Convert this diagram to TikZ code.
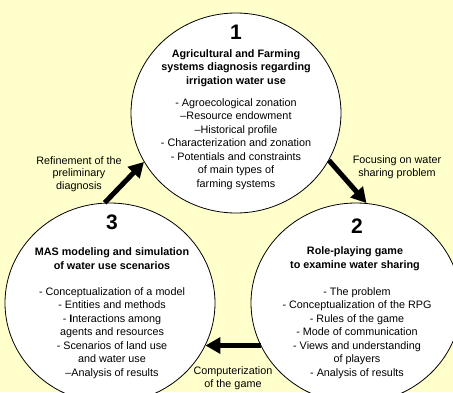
\documentclass[tikz,border=0pt]{standalone}
\usepackage{fontspec}
\setmainfont{Liberation Sans}
\usetikzlibrary{shapes.geometric,arrows.meta}
\definecolor{bgyellow}{RGB}{255,255,204}
\tikzset{
  phase/.style={ellipse, draw=black, line width=0.8pt, fill=white, inner sep=0pt,
    minimum width=210pt, minimum height=200pt},
  num/.style={font=\fontsize{21}{24}\selectfont\bfseries, inner sep=0pt},
  ttl/.style={font=\fontsize{10.8}{13.5}\selectfont\bfseries, align=center, inner sep=0pt},
  lst/.style={font=\fontsize{10.8}{13.5}\selectfont, align=center, inner sep=0pt},
  lab/.style={font=\fontsize{10.8}{12.5}\selectfont, align=center, inner sep=0pt},
  bigarrow/.style={line width=5pt, -{Triangle[length=15pt,width=16pt]}}
}
\begin{document}
\begin{tikzpicture}[x=1pt,y=-1pt]
\useasboundingbox (0,0) rectangle (453,392);
\clip (0,0) rectangle (453,392);
\fill[bgyellow] (0,0) rectangle (453,392);
% circles
\node[phase] (c1) at (236,113) {};
\node[phase] (c2) at (356,303) {};
\node[phase] (c3) at (110,303) {};
% circle 1 text
\node[num] (n1) at (236,32) {1};
\node[ttl] (t1) at (236,68) {Agricultural and Farming\\systems diagnosis regarding\\irrigation water use};
\node[lst] (l1) at (236,144) {- Agroecological zonation\\--Resource endowment\\--Historical profile\\- Characterization and zonation\\- Potentials and constraints\\of main types of\\farming systems};
% circle 2 text
\node[num] (n2) at (357,226) {2};
\node[ttl] (t2) at (355,258.5) {Role-playing game\\to examine water sharing};
\node[lst] (l2) at (357,333) {- The problem\\- Conceptualization of the RPG\\- Rules of the game\\- Mode of communication\\- Views and understanding\\of players\\- Analysis of results};
% circle 3 text
\node[num] (n3) at (112,222) {3};
\node[ttl] (t3) at (112,258.5) {MAS modeling and simulation\\of water use scenarios};
\node[lst] (l3) at (112,333) {- Conceptualization of a model\\- Entities and methods\\- \textbf{I}nteractions among\\agents and resources\\- Scenarios of land use\\and water use\\--Analysis of results};
% arrows
\draw[bigarrow] (c1.-27) -- (c2.84);
\draw[bigarrow] (c2.204) -- (c3.-24);
\draw[bigarrow] (c3.93) -- (c1.208);
% labels
\node[lab] (a12) at (397,167) {Focusing on water\\sharing problem};
\node[lab] (a23) at (233,378) {Computerization\\of the game};
\node[lab] (a31) at (79,174) {Refinement of the\\preliminary\\diagnosis};
\end{tikzpicture}
\end{document}
